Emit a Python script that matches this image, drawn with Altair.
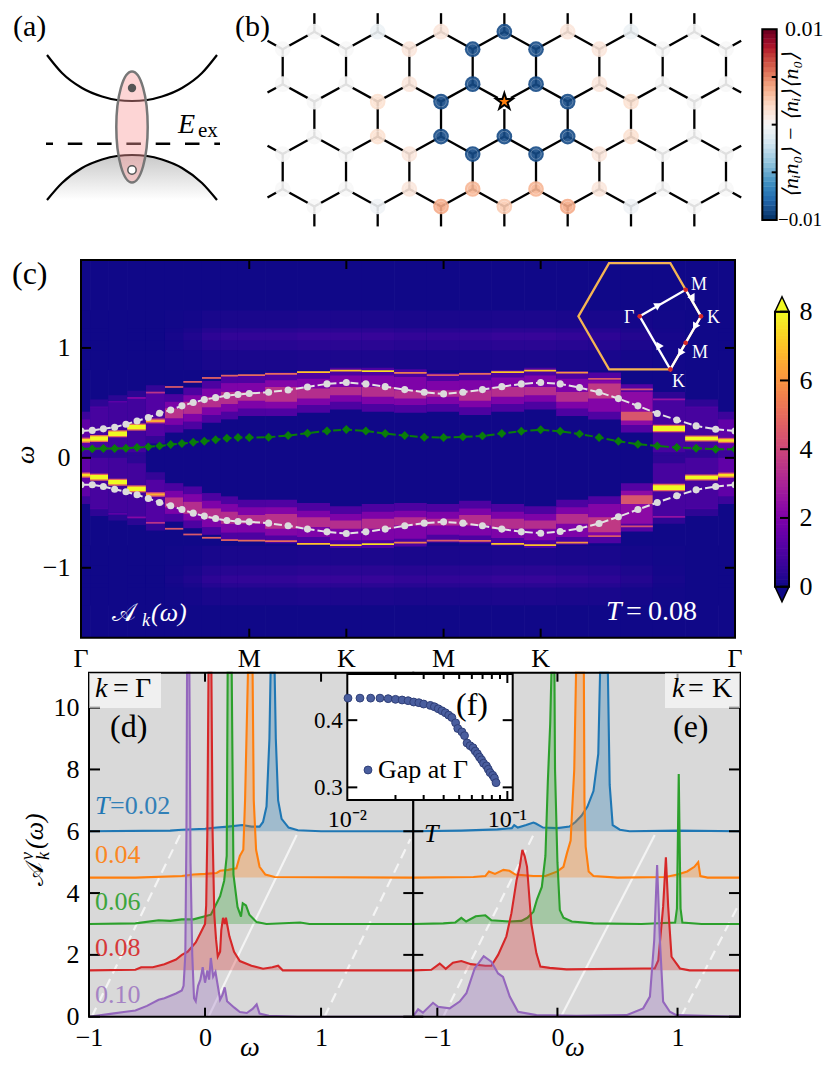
import altair as alt
import pandas as pd

SERIF = "Liberation Serif"
W, H = 815, 1048
OFF = 8

# ---- panel (a) schematic
band_x = [47, 62, 82, 102, 117, 132, 147, 162, 182, 202, 217]
upper_band = [55, 73, 88, 96.5, 100, 101, 100, 96.5, 88, 73, 55]
lower_band = [200, 183, 168, 159.5, 156, 155, 156, 159.5, 168, 183, 200]

# ---- panel (b) lattice, values in units of 1e-3
row_y = [0, 0.5, 1.5, 2, 3, 3.5, 4.5, 5]
odd_sites = [1, 3, 5, 7, 9, 11, 13]
even_sites = [0, 2, 4, 6, 8, 10, 12, 14]
row_sites = [odd_sites, even_sites, even_sites, odd_sites, odd_sites, even_sites, even_sites, odd_sites]
site_vals = [
    [0, -0.6, 1.2, -9, 1.2, -0.6, 0],
    [0, 0, 1.2, -9, -9, 1.2, 0, 0],
    [0, 0, 1.2, -9, -9, 1.2, 0, 0],
    [0, 1.6, -9, None, -9, 1.6, 0],
    [0, 1.6, -9, -9, -9, 1.6, 0],
    [0, 0, 1.2, -9, -9, 1.2, 0, 0],
    [0, 0, 1.2, 3.4, 3.4, 1.2, 0, 0],
    [0, -0.4, 3.8, 2.6, 3.8, -0.4, 0],
]
corr_stops = [-10, -8, -6, -4, -2, 0, 2, 4, 6, 8, 10]
corr_colors = ["#053061", "#2166ac", "#4393c3", "#92c5de", "#d1e5f0", "#f7f7f7",
               "#fddbc7", "#f4a582", "#d6604d", "#b2182b", "#67001f"]

# ---- panel (c) spectral map
col_edges = [0, 0.054, 0.162, 0.275, 0.386, 0.499, 0.608, 0.719, 0.832, 0.933, 1.094, 1.284, 1.48,
             1.669, 1.861, 2.055, 2.247, 2.438, 2.634, 2.824, 3.014, 3.209, 3.399, 3.591, 3.787, 3.887]
inner_up = [0.16, 0.176, 0.22, 0.28, 0.336] + [None] * 17 + [0.267, 0.176, 0.158]
inner_low = [-0.157, -0.176, -0.221, -0.282, -0.333] + [None] * 17 + [-0.27, -0.179, -0.158]
inner_val = [7.5, 8, 8, 8, 6.5] + [0] * 17 + [8, 8, 7.5]
inner_w = [0.012, 0.02, 0.02, 0.02, 0.01] + [0] * 17 + [0.022, 0.016, 0.012]
outer_up = [None, 0.46, 0.51, 0.545, 0.594, 0.645, 0.691, 0.727, 0.748, 0.752, 0.764, 0.779, 0.794,
            0.788, 0.773, 0.752, 0.764, 0.779, 0.794, 0.776, 0.718, 0.624, 0.533, 0.46, None]
outer_low = [None, -0.46, -0.51, -0.542, -0.591, -0.645, -0.697, -0.727, -0.748, -0.752, -0.758, -0.782, -0.794,
             -0.785, -0.77, -0.752, -0.755, -0.782, -0.794, -0.77, -0.712, -0.624, -0.536, -0.46, None]
outer_val = [0, 1, 1.3, 2.2, 3.5, 4.5, 4.5, 4.8, 4.8, 5, 5, 7, 7, 7.5, 5.5, 4.5, 5, 7, 7, 6, 4.5, 4.2, 2.5, 1, 0]
halo_lo = [0, 0, 0, 0.05, 0.2, 0.3, 0.33, 0.39, 0.42, 0.45, 0.45, 0.48, 0.51,
           0.49, 0.48, 0.49, 0.46, 0.49, 0.51, 0.45, 0.42, 0.3, 0.05, 0, 0]
halo_hi = [0.35, 0.46, 0.5, 0.54, 0.59, 0.51, 0.57, 0.63, 0.68, 0.68, 0.706, 0.72, 0.75,
           0.75, 0.736, 0.7, 0.706, 0.73, 0.75, 0.72, 0.706, 0.6, 0.53, 0.46, 0.35]
halo_val = [1.4, 0.9, 0.8, 0.8, 1.1, 1.9, 2, 2, 2, 2, 2.1, 2, 2,
            2, 2, 2, 2, 2, 2, 2, 2.1, 2.3, 0.9, 0.9, 1.4]
core_lo = [None] * 5 + [0.36, 0.4, 0.46, 0.49, 0.52, 0.51, 0.54, 0.57, 0.555, 0.54, 0.555, 0.52, 0.555, 0.57,
                        0.51, 0.54, 0.34] + [None] * 3
core_hi = [None] * 5 + [0.45, 0.51, 0.555, 0.6, 0.6, 0.645, 0.63, 0.645, 0.645, 0.615, 0.615, 0.615, 0.645, 0.645,
                        0.6, 0.676, 0.42] + [None] * 3
core_val = [0] * 5 + [3.4, 3.3, 3.3, 3.3, 3.3, 3.4, 3.3, 3.3, 3.3, 3.3, 3.2, 3.3, 3.3, 3.3, 3.3, 3.6, 4.4] + [0] * 3
shell_val = [0, 0, 0, 0, 0, 0.05, 0.12, 0.25, 0.3, 0.3, 0.3, 0.35, 0.35,
             0.35, 0.3, 0.3, 0.3, 0.35, 0.35, 0.3, 0.25, 0.15, 0.05, 0, 0]

k_points = [0, 0.067, 0.133, 0.2, 0.267, 0.333, 0.4, 0.467, 0.533, 0.6, 0.667, 0.733, 0.8, 0.867, 0.933, 1,
            1.115, 1.231, 1.346, 1.462, 1.577, 1.693, 1.808, 1.924, 2.04, 2.155, 2.27, 2.386, 2.501, 2.617, 2.732,
            2.848, 2.963, 3.079, 3.194, 3.31, 3.425, 3.541, 3.656, 3.772, 3.887]
band_up = [0.245, 0.25, 0.264, 0.279, 0.306, 0.336, 0.367, 0.406, 0.436, 0.473, 0.503, 0.53, 0.548, 0.567, 0.576, 0.585,
           0.597, 0.618, 0.645, 0.673, 0.685, 0.673, 0.648, 0.621, 0.597, 0.582, 0.597, 0.621, 0.648, 0.673, 0.685,
           0.673, 0.639, 0.597, 0.539, 0.473, 0.403, 0.345, 0.291, 0.261, 0.245]
band_low = [-0.245, -0.245, -0.261, -0.285, -0.309, -0.336, -0.37, -0.406, -0.436, -0.47, -0.503, -0.53, -0.552, -0.57,
            -0.579, -0.582, -0.594, -0.618, -0.648, -0.673, -0.688, -0.673, -0.648, -0.618, -0.594, -0.582, -0.594,
            -0.618, -0.648, -0.673, -0.685, -0.67, -0.642, -0.597, -0.536, -0.47, -0.406, -0.345, -0.291, -0.261, -0.245]
band_green = [0.082, 0.082, 0.085, 0.085, 0.088, 0.094, 0.1, 0.109, 0.121, 0.13, 0.142, 0.152, 0.164, 0.179, 0.185, 0.185,
              0.188, 0.203, 0.224, 0.245, 0.258, 0.245, 0.221, 0.203, 0.188, 0.185, 0.191, 0.2, 0.221, 0.242, 0.255,
              0.242, 0.218, 0.185, 0.152, 0.124, 0.109, 0.094, 0.088, 0.079, 0.079]
path_ticks = [1, 1.577, 2.155, 2.732]
path_pos = [0, 1, 1.577, 2.155, 2.732, 3.887]
path_names = ["Γ", "M", "K", "M", "K", "Γ"]

# Brillouin zone inset, in units of Γ-K
hex_x = [1, 0.5, -0.5, -1, -0.5, 0.5, 1]
hex_y = [0, 0.866, 0.866, 0, -0.866, -0.866, 0]
route_x = [0, 0.75, 1, 0.75, 0.5, 0]
route_y = [0, 0.433, 0, -0.433, -0.866, 0]
arrow_x = [0.304, 0.865, 0.9, 0.658, 0.304]
arrow_y = [0.185, 0.294, -0.169, -0.604, -0.468]
arrow_dir = [60, 150, 210, 210, 330]

# ---- panels (d), (e)
d_blue_w = [-1, -0.3, -0.2, 0, 0.1, 0.2, 0.32, 0.4, 0.47, 0.5, 0.53, 0.555, 0.565, 0.6, 0.61, 0.63, 0.66, 0.72, 0.8, 1, 1.8]
d_blue_a = [6, 6.02, 6.05, 6.08, 6.12, 6.15, 6.2, 6.15, 6.15, 6.3, 6.8, 9, 11.5, 11.5, 9, 7, 6.4, 6.12, 6.03, 6, 6]
d_orange_w = [-1, -0.6, -0.2, -0.1, 0, 0.1, 0.13, 0.2, 0.27, 0.3, 0.33, 0.345, 0.37, 0.41, 0.42, 0.44, 0.47, 0.52, 0.6, 1.8]
d_orange_a = [4.5, 4.5, 4.55, 4.6, 4.62, 4.65, 4.72, 4.75, 4.8, 5.2, 5.4, 7, 11.5, 11.5, 7, 5.4, 4.85, 4.6, 4.52, 4.5]
d_green_w = [-1, -0.6, -0.4, -0.3, -0.2, -0.1, 0, 0.05, 0.1, 0.13, 0.165, 0.187, 0.195, 0.23, 0.245, 0.28, 0.31, 0.325, 0.353, 0.382, 0.445, 0.53, 0.82, 0.9, 1.8]
d_green_a = [3, 3.02, 3.12, 3.1, 3.15, 3.15, 3.25, 3.3, 3.67, 3.9, 4.4, 5.2, 11.5, 11.5, 4.6, 3.55, 3.24, 3.67, 3.6, 3.3, 3.06, 3, 3.05, 3, 3]
d_red_w = [-1, -0.6, -0.55, -0.45, -0.35, -0.25, -0.2, -0.15, -0.08, -0.04, 0, 0.01, 0.02, 0.03, 0.055, 0.065, 0.08, 0.095, 0.11, 0.13, 0.14, 0.155, 0.17, 0.18, 0.21, 0.25, 0.3, 0.4, 0.5, 0.58, 0.63, 0.67, 1.8]
d_red_a = [1.5, 1.52, 1.6, 1.6, 1.7, 1.85, 2, 2.1, 2.4, 2.7, 3, 3.6, 6, 11.5, 11.5, 6, 3.3, 2.5, 1.95, 2.1, 2.8, 3.2, 3, 3.2, 2.6, 2.1, 1.8, 1.65, 1.55, 1.6, 1.65, 1.5, 1.5]
d_purple_w = [-1, -0.8, -0.7, -0.6, -0.5, -0.4, -0.35, -0.25, -0.2, -0.185, -0.17, -0.16, -0.155, -0.135, -0.125, -0.11, -0.095, -0.08, -0.06, -0.04, -0.02, 0, 0.02, 0.035, 0.05, 0.07, 0.09, 0.11, 0.13, 0.15, 0.17, 0.19, 0.25, 0.3, 0.36, 0.41, 0.445, 0.47, 0.55, 0.8, 1.8]
d_purple_a = [0, 0.1, 0.15, 0.2, 0.35, 0.55, 0.6, 0.75, 0.85, 1, 2, 6, 11.5, 11.5, 5, 2, 0.6, 0.5, 1, 1.2, 1.6, 1.1, 1.5, 1.2, 1.9, 1.3, 1.45, 1, 0.55, 0.7, 0.95, 0.5, 0.3, 0.15, 0.12, 0.25, 0.4, 0.1, 0.03, 0, 0]

e_blue_w = [-1.2, -0.8, -0.5, -0.38, -0.36, -0.33, -0.26, -0.2, -0.18, -0.12, 0, 0.1, 0.15, 0.2, 0.25, 0.3, 0.34, 0.355, 0.42, 0.435, 0.46, 0.52, 0.6, 1, 1.52]
e_blue_a = [6, 6.02, 6.06, 6.1, 6.2, 6.12, 6.2, 6.28, 6.25, 6.12, 6.1, 6.15, 6.3, 6.5, 6.8, 7.3, 8.5, 11.5, 11.5, 7.5, 6.2, 6.05, 6, 6.02, 6]
e_orange_w = [-1.2, -0.7, -0.6, -0.57, -0.52, -0.45, -0.4, -0.35, -0.2, -0.1, 0, 0.05, 0.08, 0.11, 0.12, 0.14, 0.155, 0.22, 0.225, 0.235, 0.26, 0.3, 0.5, 0.9, 1, 1.08, 1.14, 1.172, 1.19, 1.25, 1.52]
e_orange_a = [4.5, 4.52, 4.55, 4.7, 4.62, 4.75, 4.72, 4.6, 4.55, 4.55, 4.7, 4.85, 5.3, 5.7, 6.5, 8, 11.5, 11.5, 7, 5.5, 4.7, 4.55, 4.5, 4.52, 4.6, 4.7, 4.85, 5, 4.55, 4.5, 4.5]
e_green_w = [-1.2, -0.95, -0.85, -0.8, -0.76, -0.68, -0.6, -0.55, -0.4, -0.3, -0.25, -0.2, -0.17, -0.13, -0.1, -0.08, -0.06, -0.05, -0.025, -0.02, 0, 0.02, 0.05, 0.12, 0.3, 0.7, 0.98, 0.995, 1.01, 1.025, 1.04, 1.2, 1.52]
e_green_a = [3, 3.02, 3.05, 3.2, 3.08, 3.25, 3.28, 3.12, 3.08, 3.1, 3.2, 3.4, 3.8, 4.2, 5.2, 7.6, 9.5, 11.5, 11.5, 8, 5, 3.45, 3.2, 3.08, 3.02, 3, 3.05, 3.5, 7.85, 3.5, 3.05, 3, 3]
e_red_w = [-1.2, -1.05, -0.98, -0.93, -0.87, -0.8, -0.72, -0.6, -0.55, -0.494, -0.425, -0.383, -0.34, -0.314, -0.292, -0.272, -0.253, -0.217, -0.175, -0.142, -0.064, 0.075, 0.714, 0.81, 0.84, 0.88, 0.903, 0.922, 0.95, 1.02, 1.1, 1.52]
e_red_a = [1.5, 1.52, 1.72, 1.55, 1.75, 1.8, 1.7, 1.65, 1.65, 2, 2.6, 3.35, 4.42, 4.85, 5.4, 5.18, 4.85, 3, 2.05, 1.62, 1.58, 1.53, 1.56, 1.56, 1.83, 3.56, 5.16, 3.56, 1.94, 1.56, 1.5, 1.5]
e_purple_w = [-1.2, -1.195, -1.16, -1.12, -1.036, -0.994, -0.897, -0.814, -0.758, -0.689, -0.614, -0.55, -0.494, -0.453, -0.397, -0.328, -0.175, 0.158, 0.575, 0.714, 0.77, 0.806, 0.83, 0.853, 0.88, 0.936, 0.99, 1.52]
e_purple_a = [0, 0.05, 0.24, 0.13, 0.45, 0.32, 0.27, 0.49, 0.76, 1.56, 1.96, 1.78, 1.4, 1.29, 0.65, 0.16, 0.05, 0.03, 0.05, 0.27, 0.65, 2.48, 4.91, 2.48, 0.49, 0.16, 0.05, 0]

temp_colors = ["#1f77b4", "#ff7f0e", "#2ca02c", "#d62728", "#9467bd"]
temp_base = [6, 4.5, 3, 1.5, 0]
d_curves = [(d_blue_w, d_blue_a), (d_orange_w, d_orange_a), (d_green_w, d_green_a), (d_red_w, d_red_a), (d_purple_w, d_purple_a)]
e_curves = [(e_blue_w, e_blue_a), (e_orange_w, e_orange_a), (e_green_w, e_green_a), (e_red_w, e_red_a), (e_purple_w, e_purple_a)]

# ---- panel (f)
gap_t = [0.0101, 0.012, 0.014, 0.016, 0.018, 0.02, 0.022, 0.024, 0.026, 0.028, 0.03, 0.033, 0.035, 0.037, 0.039, 0.041,
         0.043, 0.045, 0.0475, 0.049, 0.052, 0.054, 0.056, 0.0585, 0.061, 0.063, 0.065, 0.067, 0.069, 0.071, 0.074,
         0.076, 0.078, 0.081, 0.083, 0.085]
gap_val = [0.4328, 0.4328, 0.4328, 0.4328, 0.432, 0.431, 0.43, 0.429, 0.427, 0.426, 0.424, 0.422, 0.42, 0.417, 0.414, 0.411,
           0.4075, 0.404, 0.396, 0.3876, 0.3826, 0.377, 0.366, 0.362, 0.359, 0.354, 0.35, 0.345, 0.341, 0.336, 0.332,
           0.327, 0.322, 0.318, 0.314, 0.307]

ONE = pd.DataFrame({"n": [1]})
STAR = "M0,-1L0.225,-0.309L0.951,-0.309L0.363,0.118L0.588,0.809L0,0.382L-0.588,0.809L-0.363,0.118L-0.951,-0.309L-0.225,-0.309Z"


def px(v):
    return v - OFF


def S(domain, r0, r1, **kw):
    return alt.Scale(domain=domain, range=[px(r0), px(r1)], nice=False, zero=False, **kw)


def label(text, x, y, size=26, color="black", align="left", style="normal", angle=0, opacity=1):
    return alt.Chart(ONE).mark_text(text=text, font=SERIF, fontSize=size, color=color, align=align,
                                    baseline="alphabetic", fontStyle=style, angle=angle, opacity=opacity).encode(
        x=alt.value(px(x)), y=alt.value(px(y)))


def box(x0, x1, y0, y1, fill="transparent", stroke="black", width=2, opacity=1):
    return alt.Chart(ONE).mark_rect(fill=fill, stroke=stroke, strokeWidth=width, opacity=opacity).encode(
        x=alt.value(px(x0)), x2=alt.value(px(x1)), y=alt.value(px(y0)), y2=alt.value(px(y1)))


def xticks(values, scale, y0, length, axis=None):
    return alt.Chart(pd.DataFrame({"v": values})).mark_rule(color="black", strokeWidth=2).encode(
        x=alt.X("v:Q", scale=scale, axis=axis, title=None),
        y=alt.value(px(y0)), y2=alt.value(px(y0 + length)))


def yticks(values, scale, x0, length, axis=None, width=2):
    return alt.Chart(pd.DataFrame({"v": values})).mark_rule(color="black", strokeWidth=width).encode(
        y=alt.Y("v:Q", scale=scale, axis=axis, title=None),
        x=alt.value(px(x0)), x2=alt.value(px(x0 + length)))


def seg(x0, y0, x1, y1, xs, ys, color="white", dash=None, dash_offset=0, width=2, opacity=0.75):
    df = pd.DataFrame({"x0": [x0], "y0": [y0], "x1": [x1], "y1": [y1]})
    kw = {"strokeDash": dash, "strokeDashOffset": dash_offset} if dash else {}
    return alt.Chart(df).mark_rule(color=color, strokeWidth=width, opacity=opacity, **kw).encode(
        x=alt.X("x0:Q", scale=xs, axis=None), x2="x1:Q",
        y=alt.Y("y0:Q", scale=ys, axis=None), y2="y1:Q")


layers = []

# ---------------------------------------- (a)
xa = S([0, 230], 0, 230)
ya = S([0, 230], 0, 230)
fade = alt.Gradient(gradient="linear", x1=0, x2=0, y1=0, y2=1,
                    stops=[alt.GradientStop(color="#c8c8c8", offset=0), alt.GradientStop(color="white", offset=1)])
band_df = pd.DataFrame({"x": band_x, "up": upper_band, "low": lower_band, "b": [200] * len(band_x)})
layers.append(alt.Chart(band_df).mark_area(color=fade, interpolate="monotone").encode(
    x=alt.X("x:Q", scale=xa, axis=None), y=alt.Y("low:Q", scale=ya, axis=None), y2="b:Q"))
for col in ["up", "low"]:
    layers.append(alt.Chart(band_df).mark_line(color="black", strokeWidth=2.2, interpolate="monotone").encode(
        x=alt.X("x:Q", scale=xa, axis=None), y=alt.Y(col + ":Q", scale=ya, axis=None)))
layers.append(seg(46, 143.7, 220, 143.7, xa, ya, color="black", dash=[14.5, 14.8], dash_offset=7.5, width=2.5, opacity=1))
layers.append(alt.Chart(pd.DataFrame({"x": [132], "y": [127]})).mark_point(
    shape="M0,-1A0.283,1,0,1,1,0,1A0.283,1,0,1,1,0,-1Z", size=12321, filled=True, fill="#fa9c9c", fillOpacity=0.42,
    stroke="#777777", strokeWidth=2.5, opacity=1).encode(
    x=alt.X("x:Q", scale=xa, axis=None), y=alt.Y("y:Q", scale=ya, axis=None)))
layers.append(alt.Chart(pd.DataFrame({"x": [132], "y": [88]})).mark_circle(size=70, color="#555555", opacity=1).encode(
    x=alt.X("x:Q", scale=xa, axis=None), y=alt.Y("y:Q", scale=ya, axis=None)))
layers.append(alt.Chart(pd.DataFrame({"x": [132], "y": [170]})).mark_point(
    size=70, filled=True, fill="white", stroke="#555555", strokeWidth=1.5, opacity=1).encode(
    x=alt.X("x:Q", scale=xa, axis=None), y=alt.Y("y:Q", scale=ya, axis=None)))
layers.append(label("(a)", 13, 36, size=30))
layers.append(label("E", 178, 133, size=28, style="italic"))
layers.append(label("ex", 198, 137, size=21))

# ---------------------------------------- (b)
xb = S([0, 14], 282.7, 726)
yb = S([0, 5], 31.7, 206.5)
edge_rows = []
for a, b in [(1, 2), (3, 4), (5, 6)]:
    for i in row_sites[a]:
        edge_rows.append((i, row_y[a], i, row_y[b]))
for a, b in [(0, 1), (2, 3), (4, 5), (6, 7)]:
    for i in row_sites[a]:
        for j in (i - 1, i + 1):
            if j in row_sites[b]:
                edge_rows.append((i, row_y[a], j, row_y[b]))
    # cut bonds at the left and right edge
    for i, out in [(0, -0.48), (14, 14.48)]:
        if i in row_sites[a]:
            edge_rows.append((i, row_y[a], out, row_y[a] + 0.24))
        else:
            edge_rows.append((i, row_y[b], out, row_y[b] - 0.24))
for i in odd_sites:
    edge_rows.append((i, -0.53, i, 0))
    edge_rows.append((i, 5, i, 5.57))
edge_df = pd.DataFrame(edge_rows, columns=["x0", "y0", "x1", "y1"])
layers.append(alt.Chart(edge_df).mark_rule(color="black", strokeWidth=2.3).encode(
    x=alt.X("x0:Q", scale=xb, axis=None), x2="x1:Q", y=alt.Y("y0:Q", scale=yb, axis=None), y2="y1:Q"))

site_rows = []
for r, (sites, vals) in enumerate(zip(row_sites, site_vals)):
    for i, v in zip(sites, vals):
        if v is not None:
            site_rows.append({"i": i, "y": row_y[r], "v": v})
site_df = pd.DataFrame(site_rows)
corr_scale = alt.Scale(domain=corr_stops, range=corr_colors)
layers.append(alt.Chart(site_df).mark_circle(size=245, opacity=0.9).encode(
    x=alt.X("i:Q", scale=xb, axis=None), y=alt.Y("y:Q", scale=yb, axis=None),
    color=alt.Color("v:Q", scale=corr_scale, legend=None)))
layers.append(alt.Chart(site_df).mark_point(size=110, color="white", strokeWidth=0.8, opacity=0.35).encode(
    x=alt.X("i:Q", scale=xb, axis=None), y=alt.Y("y:Q", scale=yb, axis=None)))
star_df = pd.DataFrame({"i": [7], "y": [2]})
layers.append(alt.Chart(star_df).mark_circle(size=230, color="white", opacity=1).encode(
    x=alt.X("i:Q", scale=xb, axis=None), y=alt.Y("y:Q", scale=yb, axis=None)))
layers.append(alt.Chart(star_df).mark_point(shape=STAR, size=300, filled=True, fill="#ff7f0e", stroke="black",
                                            strokeWidth=2, opacity=1).encode(
    x=alt.X("i:Q", scale=xb, axis=None), y=alt.Y("y:Q", scale=yb, axis=None)))
layers.append(label("(b)", 235, 36, size=30))

# colour bar of (b)
yc_b = S([-10, 10], 220, 29.3)
bar_b = pd.DataFrame({"lo": [-10 + 0.5 * i for i in range(40)]})
bar_b["hi"] = bar_b["lo"] + 0.54
bar_b["mid"] = bar_b["lo"] + 0.25
layers.append(alt.Chart(bar_b).mark_rect().encode(
    y=alt.Y("lo:Q", scale=yc_b, axis=None), y2="hi:Q", x=alt.value(px(762.3)), x2=alt.value(px(776.7)),
    color=alt.Color("mid:Q", scale=corr_scale, legend=None)))
layers.append(box(762.3, 776.7, 29.3, 220))
layers.append(yticks([-5, 0, 5], yc_b, 776.7, -5))
layers.append(alt.Chart(pd.DataFrame({"v": [0.01], "s": ["0.01"], "x": [785]})).mark_text(
    font=SERIF, fontSize=22, align="left", baseline="middle").encode(
    y=alt.Y("v:Q", scale=S([-0.01, 0.01], 220, 29.3), axis=None),
    x=alt.X("x:Q", scale=S([0, 815], 0, 815), axis=None), text="s:N"))
layers.append(alt.Chart(pd.DataFrame({"v": [-0.01], "s": ["−0.01"], "x": [778]})).mark_text(
    font=SERIF, fontSize=19, align="left", baseline="middle").encode(
    y=alt.Y("v:Q", scale=S([-0.01, 0.01], 220, 29.3), axis=None),
    x=alt.X("x:Q", scale=S([0, 815], 0, 815), axis=None), text="s:N"))
layers.append(label("⟨nᵢn₀⟩ − ⟨nᵢ⟩⟨n₀⟩", 798, 125, size=22, align="center", style="italic", angle=270))

# ---------------------------------------- (c)
xc = S([0, 3.887], 81, 735)
yc = S([-1.636, 1.8], 637.7, 260)
heat_scale = alt.Scale(scheme="plasma", domain=[0, 8], clamp=True)
heat_rows = []
for c in range(len(col_edges) - 1):
    def put(lo, hi, v):
        # columns overlap a hair so that no seams show
        heat_rows.append({"x0": col_edges[c], "x1": min(col_edges[c + 1] + 0.004, 3.887), "y0": lo, "y1": hi, "v": v})

    put(-1.636, 1.8, 0.04)
    for sign in (1, -1):
        put(sign * 0.8, sign * 1.34, 0.04 + shell_val[c] * 0.4)
        put(sign * 0.98, sign * 1.18, 0.04 + shell_val[c])
        put(sign * 1.07, sign * 1.14, 0.04 + shell_val[c] * 1.6)
        put(sign * (halo_lo[c] - 0.07), sign * (halo_hi[c] + 0.07), halo_val[c] * 0.5)
        put(sign * halo_lo[c], sign * halo_hi[c], halo_val[c])
        if core_lo[c] is not None:
            put(sign * core_lo[c], sign * core_hi[c], core_val[c])
    for pos in (inner_up[c], inner_low[c]):
        if pos is not None:
            w = inner_w[c]
            put(pos - w - 0.012, pos + w + 0.012, inner_val[c] * 0.62)
            put(pos - w, pos + w, inner_val[c])
    for pos in (outer_up[c], outer_low[c]):
        if pos is not None:
            put(pos - 0.008, pos + 0.008, outer_val[c])
heat_df = pd.DataFrame(heat_rows)
layers.append(alt.Chart(heat_df).mark_rect().encode(
    x=alt.X("x0:Q", scale=xc, axis=None), x2="x1:Q",
    y=alt.Y("y0:Q", scale=yc, axis=None), y2="y1:Q",
    color=alt.Color("v:Q", scale=heat_scale, legend=None)))

kband = pd.DataFrame({"k": k_points, "up": band_up, "low": band_low, "green": band_green})
for col in ["up", "low"]:
    layers.append(alt.Chart(kband).mark_line(color="#e4e4e4", strokeWidth=2, strokeDash=[8, 3]).encode(
        x=alt.X("k:Q", scale=xc, axis=None), y=alt.Y(col + ":Q", scale=yc, axis=None)))
    layers.append(alt.Chart(kband).mark_circle(color="#dcdcdc", size=50, opacity=1).encode(
        x=alt.X("k:Q", scale=xc, axis=None), y=alt.Y(col + ":Q", scale=yc, axis=None)))
layers.append(alt.Chart(kband).mark_line(color="#0a7d0a", strokeWidth=2, strokeDash=[8, 3]).encode(
    x=alt.X("k:Q", scale=xc, axis=None), y=alt.Y("green:Q", scale=yc, axis=None)))
layers.append(alt.Chart(kband).mark_point(shape="diamond", filled=True, color="#0a7d0a", size=80, opacity=1).encode(
    x=alt.X("k:Q", scale=xc, axis=None), y=alt.Y("green:Q", scale=yc, axis=None)))

# markers at the ends stop at the frame
layers.append(box(70, 80, 420, 500, fill="white", stroke="white", width=0))
layers.append(box(736, 748, 420, 500, fill="white", stroke="white", width=0))

# Brillouin zone sketch
xz = S([-1, 1], 578.4, 701)
yz = S([-1, 1], 377.6, 255)
hex_df = pd.DataFrame({"x": hex_x, "y": hex_y, "o": list(range(len(hex_x)))})
layers.append(alt.Chart(hex_df).mark_line(color="#f5b553", strokeWidth=2.3).encode(
    x=alt.X("x:Q", scale=xz, axis=None), y=alt.Y("y:Q", scale=yz, axis=None), order="o:Q"))
route_df = pd.DataFrame({"x": route_x, "y": route_y, "o": list(range(len(route_x)))})
layers.append(alt.Chart(route_df).mark_line(color="white", strokeWidth=2.3).encode(
    x=alt.X("x:Q", scale=xz, axis=None), y=alt.Y("y:Q", scale=yz, axis=None), order="o:Q"))
arrow_df = pd.DataFrame({"x": arrow_x, "y": arrow_y, "a": arrow_dir})
layers.append(alt.Chart(arrow_df).mark_point(shape="triangle-up", size=70, filled=True, color="white", opacity=1).encode(
    x=alt.X("x:Q", scale=xz, axis=None), y=alt.Y("y:Q", scale=yz, axis=None),
    angle=alt.Angle("a:Q", scale=None)))
layers.append(alt.Chart(route_df.iloc[:5]).mark_circle(size=22, color="#d62728", opacity=1).encode(
    x=alt.X("x:Q", scale=xz, axis=None), y=alt.Y("y:Q", scale=yz, axis=None)))
for t, x, y in [("Γ", 624, 323), ("M", 691, 290), ("K", 707, 323), ("M", 692, 358), ("K", 672, 387)]:
    layers.append(label(t, x, y, size=18, color="white"))

layers.append(label("𝒜", 112, 621, size=25, color="white"))
layers.append(label("k", 142, 626, size=18, color="white", style="italic"))
layers.append(label("(ω)", 151, 621, size=26, color="white", style="italic"))
layers.append(label("T", 606, 620, size=28, color="white", style="italic"))
layers.append(label("=", 626, 620, size=28, color="white"))
layers.append(label("0.08", 648, 620, size=28, color="white"))

layers.append(box(81, 735, 260, 637.7))
layers.append(xticks(path_ticks, xc, 260, 9))
layers.append(xticks(path_ticks, xc, 637.7, -9))
layers.append(yticks([-1, 0, 1], yc, 81, 10, axis=alt.Axis(
    values=[-1, 0, 1], orient="left", offset=-px(81), labelPadding=11, format="d", zindex=1, labelFlush=False)))
layers.append(yticks([-1, 0, 1], yc, 735, -10))
layers.append(label("ω", 34, 464, size=26, style="italic", angle=270))
layers.append(label("(c)", 12, 284, size=32))
layers.append(alt.Chart(pd.DataFrame({"k": path_pos, "s": path_names})).mark_text(
    font=SERIF, fontSize=26, baseline="alphabetic").encode(
    x=alt.X("k:Q", scale=xc, axis=None), y=alt.value(px(667)), text="s:N"))

# colour bar of (c)
yc_c = S([0, 8], 586.7, 311.7)
bar_c = pd.DataFrame({"lo": [0.1 * i for i in range(80)]})
bar_c["hi"] = bar_c["lo"] + 0.12
bar_c["mid"] = bar_c["lo"] + 0.05
layers.append(alt.Chart(bar_c).mark_rect().encode(
    y=alt.Y("lo:Q", scale=yc_c, axis=None), y2="hi:Q", x=alt.value(px(775)), x2=alt.value(px(789)),
    color=alt.Color("mid:Q", scale=heat_scale, legend=None)))
layers.append(alt.Chart(pd.DataFrame({"v": [8.218]})).mark_point(
    shape="M-1,1.07L1,1.07L0,-1.07Z", size=196, filled=True, fill="#f0f921", stroke="black", strokeWidth=1.5, opacity=1).encode(
    y=alt.Y("v:Q", scale=yc_c, axis=None), x=alt.value(px(782))))
layers.append(alt.Chart(pd.DataFrame({"v": [-0.218]})).mark_point(
    shape="M-1,-1.07L1,-1.07L0,1.07Z", size=196, filled=True, fill="#0d0887", stroke="black", strokeWidth=1.5, opacity=1).encode(
    y=alt.Y("v:Q", scale=yc_c, axis=None), x=alt.value(px(782))))
layers.append(box(775, 789, 311.7, 586.7))
layers.append(yticks([0, 2, 4, 6, 8], yc_c, 789, -9, axis=alt.Axis(
    values=[0, 2, 4, 6, 8], orient="right", offset=px(789) - W, labelPadding=10, format="d", zindex=1, labelFlush=False)))

# ---------------------------------------- (d), (e)
yd = S([0, 11.13], 1016.7, 672.7, clamp=True)
panels = [
    ("d", S([-1, 1.795], 89, 413.3, clamp=True), 89, 413.3, d_curves,
     [(0.03, 0, 0.79, 5.88, None), (-0.976, 0, -0.216, 5.88, [10, 6]), (1.03, 0, 1.77, 5.75, [10, 6])], [-1, 0, 1]),
    ("e", S([-1.2, 1.52], 413.3, 740, clamp=True), 413.3, 740, e_curves,
     [(0.03, 0, 0.81, 5.88, None), (-0.95, 0, -0.2, 5.88, [10, 6]), (1.03, 0, 1.5, 3.56, [10, 6])], [-1, 0, 1]),
]
for name, xp, x0, x1, curves, streaks, xt in panels:
    layers.append(box(x0, x1, 672.7, 1016.7, fill="#d9d9d9", stroke="#d9d9d9", width=0))
    for sx0, sy0, sx1, sy1, dash in streaks:
        layers.append(seg(sx0, sy0, sx1, sy1, xp, yd, dash=dash, width=2.2, opacity=0.7))
    for (w, a), color, base in zip(curves, temp_colors, temp_base):
        df = pd.DataFrame({"w": w, "a": a, "b": [base] * len(w)})
        layers.append(alt.Chart(df).mark_area(color=color, opacity=0.3).encode(
            x=alt.X("w:Q", scale=xp, axis=None), y=alt.Y("a:Q", scale=yd, axis=None), y2="b:Q"))
        layers.append(alt.Chart(df).mark_line(color=color, strokeWidth=2.1).encode(
            x=alt.X("w:Q", scale=xp, axis=None), y=alt.Y("a:Q", scale=yd, axis=None)))
    layers.append(xticks(xt, xp, 672.7, 9))
    layers.append(xticks(xt, xp, 1016.7, -9, axis=alt.Axis(
        values=xt, orient="bottom", offset=px(1016.7) - H, labelPadding=8, format="d", zindex=1, labelFlush=False)))
    layers.append(box(x0, x1, 672.7, 1016.7, width=2))

y_values = [0, 2, 4, 6, 8, 10]
layers.append(yticks(y_values, yd, 89, 11, axis=alt.Axis(
    values=y_values, orient="left", offset=-px(89), labelPadding=10, format="d", zindex=1, labelFlush=False)))
layers.append(yticks(y_values, yd, 413.3, -10))
layers.append(yticks(y_values, yd, 413.3, 10))
layers.append(yticks(y_values, yd, 740, -11))

# keys
layers.append(box(89, 161, 673, 708, fill="white", stroke="white", width=0, opacity=0.6))
layers.append(box(665, 740, 673, 708, fill="white", stroke="white", width=0, opacity=0.6))
layers.append(label("k", 95, 697, size=28, style="italic"))
layers.append(label("=", 113, 697, size=28))
layers.append(label("Γ", 135, 697, size=28))
layers.append(label("k", 672, 697, size=28, style="italic"))
layers.append(label("=", 688, 697, size=28))
layers.append(label("K", 712, 697, size=28))
layers.append(label("(d)", 110, 737, size=32))
layers.append(label("(e)", 673, 737, size=32))

temp_text = ["=0.02", "0.04", "0.06", "0.08", "0.10"]
temp_y = [814, 862.7, 910, 956, 1003]
layers.append(label("T", 95, 814, color=temp_colors[0], style="italic"))
for t, c, y in zip(temp_text, temp_colors, temp_y):
    layers.append(label(t, 110 if t.startswith("=") else 95, y, color=c, opacity=0.9 if c != temp_colors[4] else 0.75))

layers.append(label("𝒜", 43, 886, size=25, angle=270))
layers.append(label("k", 49, 860, size=18, style="italic", angle=270))
layers.append(label("ν", 33, 860, size=18, style="italic", angle=270))
layers.append(label("(ω)", 43, 849, style="italic", angle=270))
layers.append(label("ω", 250, 1056, style="italic", align="center", size=28))
layers.append(label("ω", 575, 1056, style="italic", align="center", size=28))
layers.append(label("T", 424, 842, style="italic", size=26))

# ---------------------------------------- (f)
xf = S([0.01, 0.108], 347.3, 512.7, type="log")
yf = S([0.2812, 0.4687], 800, 674)
layers.append(box(347.3, 512.7, 674, 800, fill="white"))
f_minor = [0.02, 0.03, 0.04, 0.05, 0.06, 0.07, 0.08, 0.09]
layers.append(xticks(f_minor, xf, 674, 5))
layers.append(xticks(f_minor, xf, 800, -5))
layers.append(xticks([0.1], xf, 674, 9))
layers.append(xticks([0.1], xf, 800, -9))
layers.append(yticks([0.3, 0.4], yf, 347.3, 10, axis=alt.Axis(
    values=[0.3, 0.4], orient="left", offset=-px(347.3), labelPadding=5, labelFontSize=23, format=".1f", zindex=1, labelFlush=False)))
layers.append(yticks([0.3, 0.4], yf, 512.7, -10))
gap_df = pd.DataFrame({"t": gap_t, "g": gap_val})
layers.append(alt.Chart(gap_df).mark_circle(size=62, color="#4a5e9e", stroke="#2f3f78", strokeWidth=1, opacity=1).encode(
    x=alt.X("t:Q", scale=xf, axis=None), y=alt.Y("g:Q", scale=yf, axis=None)))
layers.append(alt.Chart(pd.DataFrame({"x": [368], "y": [770]})).mark_circle(
    size=62, color="#4a5e9e", stroke="#2f3f78", strokeWidth=1, opacity=1).encode(
    x=alt.X("x:Q", scale=S([0, 815], 0, 815), axis=None), y=alt.Y("y:Q", scale=S([0, 1050], 0, 1050), axis=None)))
layers.append(label("Gap at Γ", 378, 778))
layers.append(label("(f)", 456, 715, size=32))
layers.append(alt.Chart(pd.DataFrame({"t": [0.01, 0.1], "s": ["10⁻²", "10⁻¹"]})).mark_text(
    font=SERIF, fontSize=24, baseline="alphabetic").encode(
    x=alt.X("t:Q", scale=xf, axis=None), y=alt.value(px(826.7)), text="s:N"))

chart = (
    alt.layer(*layers)
    .resolve_scale(x="independent", y="independent", color="independent")
    .resolve_axis(x="independent", y="independent")
    .properties(width=W, height=H, padding=0, autosize=alt.AutoSizeParams(type="none"))
    .configure_view(stroke=None)
    .configure_axis(domain=False, ticks=False, grid=False, labelFont=SERIF, labelFontSize=26, labelColor="black")
)

chart.save("out.html", embed_options={"renderer": "svg", "actions": False})
